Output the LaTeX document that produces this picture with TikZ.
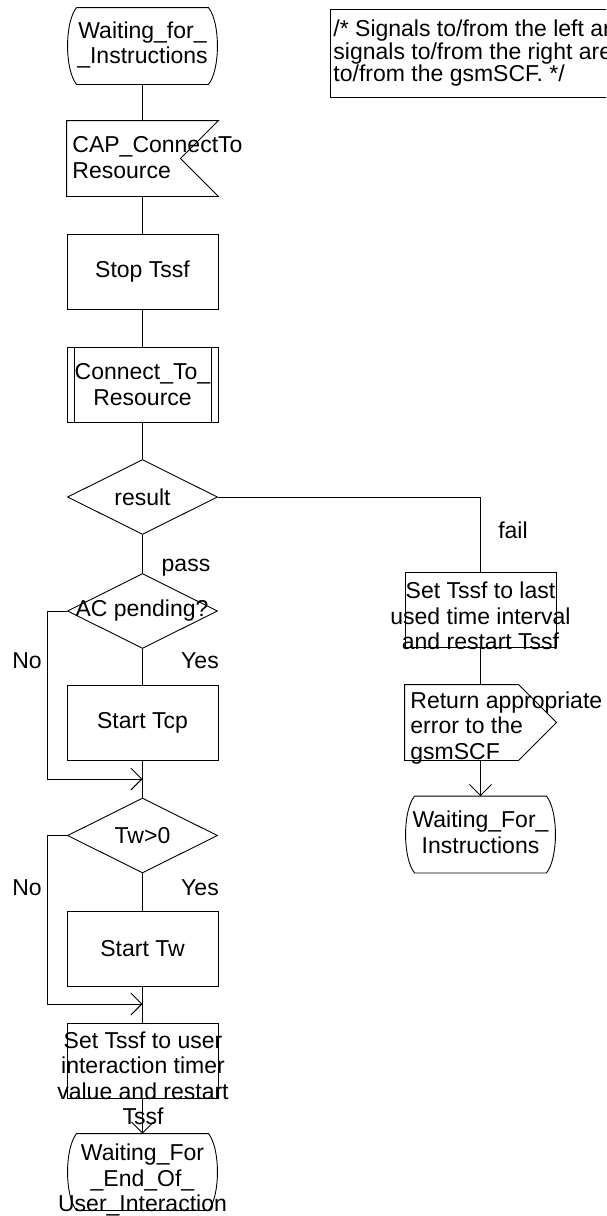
\documentclass[tikz,border=0pt]{standalone}
\usepackage{fontspec}
\setmainfont{Liberation Sans}
\usepackage{tikz}
\usetikzlibrary{arrows.meta, shapes.geometric}
\newcommand\sdlfont{\fontsize{23pt}{25.5pt}\selectfont}
\newcommand\cmtfont{\fontsize{23pt}{22.5pt}\selectfont}
\newcommand\stateline[1]{\draw (#1.north west) -- (#1.north east)
  .. controls +(12,15) and +(12,-15) .. (#1.south east) -- (#1.south west)
  .. controls +(-12,-15) and +(-12,15) .. (#1.north west);}

\begin{document}
\begin{tikzpicture}[x=1pt,y=-1pt,line width=0.9pt,
  every node/.style={font=\sdlfont, inner sep=0pt},
  sdlframe/.style={rectangle, minimum width=151pt, minimum height=75pt},
  blk/.style={sdlframe, draw, align=center},
  dec/.style={diamond, draw, aspect=2, minimum width=150pt, minimum height=75pt},
  stt/.style={rectangle, minimum width=131pt, minimum height=76pt},
  lbl/.style={align=center},
  arr/.style={-{Straight Barb[length=11pt,width=22pt]}}]
\useasboundingbox (0,0) rectangle (606,1216);
% Left column
\node[stt] (wait1) at (142.5,46) {};
\node[lbl] (wait1t) at (142.5,45) {Waiting\_for\_\\\_Instructions};
\stateline{wait1}
\node[sdlframe] (capin) at (142.5,158.5) {};
\draw (capin.north west) -- (capin.north east) -- ([xshift=-38pt]capin.east)
  -- (capin.south east) -- (capin.south west) -- cycle;
\node[anchor=west, align=left] (capint) at (72,157.5) {CAP\_ConnectTo\\Resource};
\node[blk] (stop) at (142.5,271.5) {Stop Tssf};
\node[blk] (conn) at (142.5,384.5) {Connect\_To\_\\Resource};
\draw ([xshift=8pt]conn.north west) -- ([xshift=8pt]conn.south west);
\draw ([xshift=-7pt]conn.north east) -- ([xshift=-7pt]conn.south east);
\node[dec] (result) at (142.5,497) {result};
\node[dec] (acpend) at (142.5,611) {};
\node[lbl] (acpendt) at (142,611) {AC pending?};
\node[blk] (tcp) at (142.5,723) {Start Tcp};
\coordinate (m1) at (142.5,779);
\node[dec] (twdec) at (142.5,835.5) {Tw>0};
\node[blk] (tw) at (142.5,948.5) {Start Tw};
\coordinate (m2) at (142.5,1004);
\node[blk] (settssf) at (142.5,1060.5) {};
\node[lbl] (settssft) at (143,1078.5)
  {Set Tssf to user\\interaction timer\\value and restart\\Tssf};
\node[stt] (wait2) at (142.5,1172) {};
\node[lbl] (wait2t) at (142.5,1180) {Waiting\_For\\\_End\_Of\_\\User\_Interaction};
\stateline{wait2}
% Right column
\node[blk] (last) at (480.5,609.5) {};
\node[lbl] (lastt) at (480.5,616) {Set Tssf to last\\used time interval\\and restart Tssf};
\node[sdlframe] (reterr) at (480.5,722.5) {};
\draw (reterr.north west) -- ([xshift=-38pt]reterr.north east) -- (reterr.east)
  -- ([xshift=-38pt]reterr.south east) -- (reterr.south west) -- cycle;
\node[anchor=west, align=left] (reterrt) at (410,728)
  {Return appropriate\\error to the\\gsmSCF};
\node[stt] (wait3) at (480.5,834.5) {};
\node[lbl] (wait3t) at (480.5,832.5) {Waiting\_For\_\\Instructions};
\stateline{wait3}
% Connectors
\draw (wait1.south) -- (capin.north);
\draw (capin.south) -- (stop.north);
\draw (stop.south) -- (conn.north);
\draw (conn.south) -- (result.north);
\draw (result.south) -- (acpend.north);
\draw (acpend.south) -- (tcp.north);
\draw (tcp.south) -- (twdec.north);
\draw[arr] (acpend.west) -- ++(-19.5,0) |- (m1);
\draw (twdec.south) -- (tw.north);
\draw (tw.south) -- (settssf.north);
\draw[arr] (twdec.west) -- ++(-19.5,0) |- (m2);
\draw[arr] (settssf.south) -- (wait2.north);
\draw (result.east) -| (last.north);
\draw (last.south) -- (reterr.north);
\draw[arr] (reterr.south) -- (wait3.north);
% Branch labels
\node (pass) at (186,568) {pass};
\node (no1) at (27,661) {No};
\node (yes1) at (200,661) {Yes};
\node (no2) at (27,888) {No};
\node (yes2) at (200,888) {Yes};
\node (fail) at (513,530) {fail};
% Comment (cut at the right edge)
\begin{scope}
\clip (0,0) rectangle (606,1216);
\node[draw, anchor=north west, minimum height=88pt, align=left, inner xsep=3pt,
  font=\cmtfont] (cmt) at (330,9)
  {/* Signals to/from the left are\\signals to/from the right are\\to/from the gsmSCF. */};
\end{scope}
\end{tikzpicture}
\end{document}
